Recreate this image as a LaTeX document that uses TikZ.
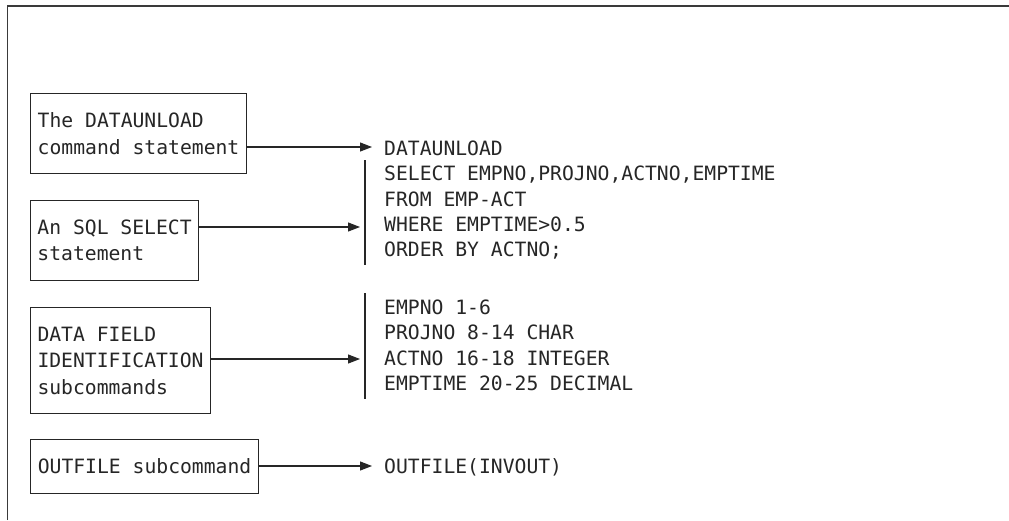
\documentclass[tikz,border=0pt]{standalone}
\usepackage{fontspec}
\setmonofont{DejaVu Sans Mono}
\usetikzlibrary{arrows.meta}
\definecolor{ink}{HTML}{262626}
\definecolor{framec}{HTML}{3A3A3A}
\begin{document}
\begin{tikzpicture}[x=1pt,y=-1pt,
  every node/.style={font=\ttfamily\fontsize{19.7}{25.3}\selectfont, text=ink, inner sep=0pt},
  label box/.style={draw=ink, line width=1.1pt, align=left, anchor=north west, font=\ttfamily\fontsize{19.7}{26.5}\selectfont},
  code/.style={align=left, anchor=north west},
  conn/.style={draw=ink, line width=1.1pt, -{Triangle[length=12pt,width=9pt]}},
  bar/.style={draw=ink, line width=1.1pt}]
\useasboundingbox (0,0) rectangle (1009,520);
\fill[white] (0,0) rectangle (1009,520);
% frame
\draw[framec, line width=1.6pt] (7.5,520) -- (7.5,6) -- (1009,6);
% label boxes
\node[label box, minimum width=216pt, minimum height=80pt] (b1) at (30,93) {The DATAUNLOAD\\command statement};
\node[label box, minimum width=168pt, minimum height=80pt] (b2) at (30,200) {An SQL SELECT\\statement};
\node[label box, minimum width=180pt, minimum height=106pt] (b3) at (30,307) {DATA FIELD\\IDENTIFICATION\\subcommands};
\node[label box, minimum width=228pt, minimum height=54pt] (b4) at (30,439) {OUTFILE subcommand};
% code blocks
\node[code] (c1) at (384,140.8) {DATAUNLOAD\\SELECT EMPNO,PROJNO,ACTNO,EMPTIME\\FROM EMP-ACT\\WHERE EMPTIME>0.5\\ORDER BY ACTNO;};
\node[code] (c2) at (384,299.8) {EMPNO 1-6\\PROJNO 8-14 CHAR\\ACTNO 16-18 INTEGER\\EMPTIME 20-25 DECIMAL};
\node[code, anchor=base west] (c3) at (384,473) {OUTFILE(INVOUT)};
% bars
\draw[bar] (365,160) -- (365,265);
\draw[bar] (365,293) -- (365,399);
% arrow end points
\coordinate (e1) at (372,147);
\coordinate (e2) at (360,227);
\coordinate (e3) at (360,359);
\coordinate (e4) at (372,466);
\draw[conn] (b1.east |- e1) -- (e1);
\draw[conn] (b2.east |- e2) -- (e2);
\draw[conn] (b3.east |- e3) -- (e3);
\draw[conn] (b4.east |- e4) -- (e4);
\end{tikzpicture}
\end{document}
